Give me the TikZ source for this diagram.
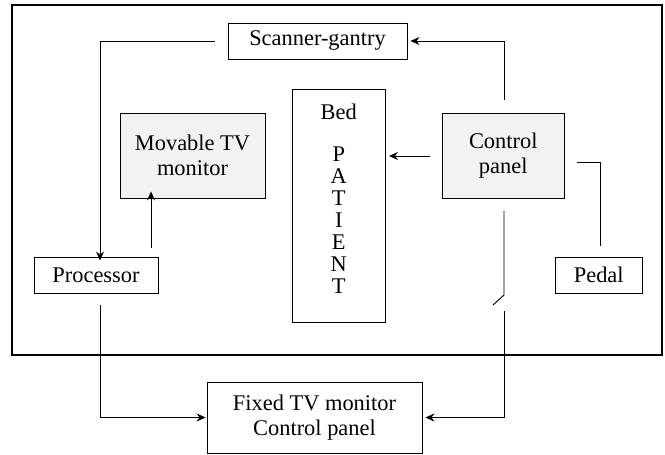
\documentclass[tikz,border=0pt]{standalone}
\usepackage{fontspec}
\setmainfont{Liberation Serif}
\usetikzlibrary{arrows.meta}
\begin{document}
\begin{tikzpicture}[x=1bp,y=-1bp,
  box/.style={draw,line width=0.9bp,inner sep=0pt,align=center,font=\fontsize{22.5}{24.5}\selectfont},
  gbox/.style={box,fill=black!5},
  conn/.style={line width=0.9bp},
  arr/.style={conn,-{Stealth[length=9bp,width=8bp,inset=3bp]}}]
\useasboundingbox (0,0) rectangle (665,455);
\draw[line width=2bp] (11.7,5) rectangle (662,355);
\node[box,minimum width=179bp,minimum height=36bp] (scan) at (317.5,41) {Scanner-gantry};
\node[box,minimum width=93.5bp,minimum height=233bp] (bed) at (338.75,205.5) {};
\node[font=\fontsize{22.5}{24}\selectfont] (bedlbl) at (338.75,112) {Bed};
\node[align=center,inner sep=0pt,font=\fontsize{22.5}{22}\selectfont] (pat) at (338.75,220) {P\\A\\T\\I\\E\\N\\T};
\node[gbox,minimum width=145bp,minimum height=85bp] (mov) at (192.5,155.5) {Movable TV\\monitor};
\node[gbox,minimum width=121.5bp,minimum height=85bp] (ctrl) at (503.25,155.5) {Control\\panel};
\node[box,minimum width=124bp,minimum height=36bp] (proc) at (96,275) {Processor};
\node[box,minimum width=87.5bp,minimum height=36bp] (pedal) at (598.75,275) {Pedal};
\node[box,minimum width=215bp,minimum height=71bp] (fixed) at (314.5,417.5) {Fixed TV monitor\\Control panel};
% coordinates for free ends
\coordinate (c1) at (504,100);
\coordinate (c2) at (215,41);
\coordinate (c3) at (430,156);
\coordinate (c4) at (151,248);
\coordinate (c5) at (600,246);
\coordinate (c6) at (577,162);
\coordinate (s1) at (504,211);
\coordinate (s2) at (504,295);
\coordinate (s3) at (493,305);
\coordinate (s4) at (504,311);
\coordinate (p1) at (100,305);
% connectors
\draw[arr] (c1) |- ([xshift=3bp]scan.east);
\draw[arr] (c2) -| ([yshift=-4bp]proc.north -| 100,0);
\draw[arr] (c3) -- ([xshift=3bp]bed.east |- c3);
\draw[arr] (c4) -- ([yshift=7bp]mov.south -| c4);
\draw[conn] (c5) |- (c6);
\draw[conn] (s1) -- (s2) -- (s3);
\draw[arr] (s4) |- ([xshift=3bp]fixed.east);
\draw[arr] (p1) |- ([xshift=-1bp]fixed.west);
\end{tikzpicture}
\end{document}
